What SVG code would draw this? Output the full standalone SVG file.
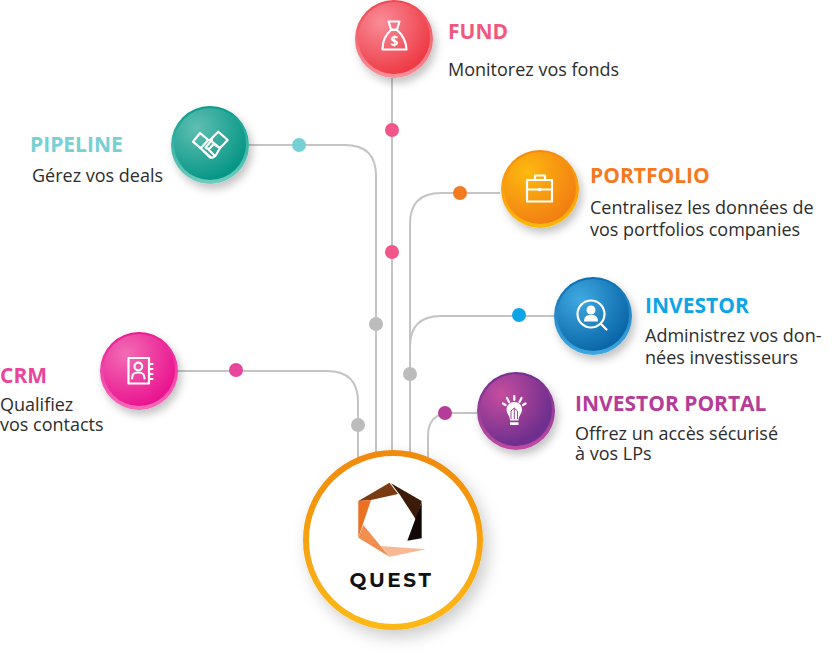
<svg xmlns="http://www.w3.org/2000/svg" width="840" height="662" viewBox="0 0 840 662">
<style>
text{font-family:"Open Sans","Noto Sans","Liberation Sans",sans-serif}
.t{font-size:21px;font-weight:700}
.d{font-size:18px;fill:#2d2d2d}
.c{fill:none;stroke:#c4c4c4;stroke-width:2}
.i{fill:none;stroke:#fff;stroke-width:2.200;stroke-linejoin:round;stroke-linecap:round}
.f{fill:#fff}
</style>
<defs>
<filter id="sh" x="-30%" y="-30%" width="170%" height="170%"><feDropShadow dx="3" dy="5" stdDeviation="4" flood-color="#000" flood-opacity=".24"/></filter>
<filter id="shq" x="-30%" y="-30%" width="170%" height="170%"><feDropShadow dx="5" dy="7" stdDeviation="8" flood-color="#000" flood-opacity=".2"/></filter>
<linearGradient id="rq" x1="0" y1="0" x2="0" y2="1"><stop offset="0" stop-color="#f08a10"/><stop offset="1" stop-color="#fdb913"/></linearGradient>
<linearGradient id="r1" x1="0" y1="0" x2="0" y2="1"><stop offset="0" stop-color="#ee4650"/><stop offset="1" stop-color="#f8909a"/></linearGradient>
<radialGradient id="g1" cx=".32" cy=".28" r=".75"><stop offset="0" stop-color="#f88c98"/><stop offset="1" stop-color="#ee3b45"/></radialGradient>
<linearGradient id="r2" x1="0" y1="0" x2="0" y2="1"><stop offset="0" stop-color="#089a8c"/><stop offset="1" stop-color="#70cdc0"/></linearGradient>
<radialGradient id="g2" cx=".32" cy=".28" r=".75"><stop offset="0" stop-color="#5fbfb2"/><stop offset="1" stop-color="#069686"/></radialGradient>
<linearGradient id="r3" x1="0" y1="0" x2="0" y2="1"><stop offset="0" stop-color="#f58a10"/><stop offset="1" stop-color="#fdb80f"/></linearGradient>
<radialGradient id="g3" cx=".32" cy=".28" r=".75"><stop offset="0" stop-color="#fdb90f"/><stop offset="1" stop-color="#f27f12"/></radialGradient>
<linearGradient id="r4" x1="0" y1="0" x2="0" y2="1"><stop offset="0" stop-color="#0b6fb0"/><stop offset="1" stop-color="#40a8e0"/></linearGradient>
<radialGradient id="g4" cx=".32" cy=".28" r=".75"><stop offset="0" stop-color="#3fa9e0"/><stop offset="1" stop-color="#0a66a8"/></radialGradient>
<linearGradient id="r5" x1="0" y1="0" x2="0" y2="1"><stop offset="0" stop-color="#6f2f8e"/><stop offset="1" stop-color="#c04ca4"/></linearGradient>
<radialGradient id="g5" cx=".3" cy=".28" r=".72"><stop offset="0" stop-color="#c64d9f"/><stop offset="1" stop-color="#6f2f8e"/></radialGradient>
<linearGradient id="r6" x1="0" y1="0" x2="0" y2="1"><stop offset="0" stop-color="#ea1a94"/><stop offset="1" stop-color="#f66cb8"/></linearGradient>
<radialGradient id="g6" cx=".32" cy=".28" r=".75"><stop offset="0" stop-color="#f26cb4"/><stop offset="1" stop-color="#ea1490"/></radialGradient>
</defs>

<g id="connectors">
<path class="c" d="M392 78V452"/>
<path class="c" d="M249 145H345Q376 145 376 176V455"/>
<path class="c" d="M500 193H441Q410 193 410 224V455"/>
<path class="c" d="M554 316H441Q410 316 410 347V400"/>
<path class="c" d="M477 413H451Q428 413 428 436V460"/>
<path class="c" d="M178 371H327Q358 371 358 402V462"/>
<circle cx="392" cy="130" r="7" fill="#f0568a"/>
<circle cx="392" cy="252" r="7" fill="#f0568a"/>
<circle cx="299" cy="145" r="7" fill="#76d0d4"/>
<circle cx="376" cy="324" r="7" fill="#bcbcbc"/>
<circle cx="460" cy="193" r="7" fill="#f37a1f"/>
<circle cx="519" cy="315" r="7" fill="#0ea5e6"/>
<circle cx="410" cy="374" r="7" fill="#bcbcbc"/>
<circle cx="445" cy="413" r="7" fill="#b53c98"/>
<circle cx="236" cy="370" r="7" fill="#e8459c"/>
<circle cx="358" cy="425" r="7" fill="#bcbcbc"/>
</g>

<g id="quest">
<circle cx="393" cy="540" r="87" fill="#fff" stroke="url(#rq)" stroke-width="6" filter="url(#shq)"/>
<path fill="#7a3a12" d="M358.300 501L389.500 482.700L398 494L371 500Z"/>
<path fill="#3c1c08" d="M391 483.300L421.700 501L416 520L413 515L400 495Z"/>
<path fill="#120805" d="M421.700 502V538.300L407.300 540.700Z"/>
<path fill="#ec7020" d="M358.300 501L371 500L358.300 537.700Z"/>
<path fill="#f28e50" d="M358.300 537.700L363.300 525L389.500 556.700Z"/>
<path fill="#f8b894" d="M381 546L425.700 549.300L389.500 556.700Z"/>
<text x="391.500" y="587" text-anchor="middle" style="font-family:'Montserrat','Lato','Open Sans',sans-serif;font-size:20px;font-weight:700;letter-spacing:2.600px" fill="#111">QUEST</text>
</g>

<g id="fund">
<circle cx="394" cy="39" r="39" fill="url(#r1)" filter="url(#sh)"/>
<circle cx="394" cy="38" r="36" fill="url(#g1)"/>
<path class="i" d="M388.500 21.500H399.500L397 29.500H391ZM391 30C385 35 382.500 43 382.500 49.500H406.500C406.500 43 403 35 397 30Z"/>
<text x="394.500" y="46" text-anchor="middle" font-size="14" font-weight="700" fill="#fff">$</text>
<text class="t" x="448" y="39" fill="#f0587e">FUND</text>
<text class="d" x="448" y="76">Monitorez vos fonds</text>
</g>

<g id="pipeline">
<circle cx="210" cy="145" r="39" fill="url(#r2)" filter="url(#sh)"/>
<circle cx="210" cy="144" r="36" fill="url(#g2)"/>
<path class="i" d="M193 141.700L200 133L208.300 140L200.700 148.300ZM210 140L218.300 131.700L227.700 140L220 148ZM200.700 148.300L210 157.500C212 158 215 157 216 155L220 148M208.300 140H212L205.500 147.500C207 149 209 149 210.500 147.500L213.500 144L220 148M204.500 151.500L210.500 157M208 149L214 155"/>
<text class="t" x="30" y="152" fill="#76d0d4">PIPELINE</text>
<text class="d" x="32" y="182">Gérez vos deals</text>
</g>

<g id="portfolio">
<circle cx="540" cy="189" r="39" fill="url(#r3)" filter="url(#sh)"/>
<circle cx="540" cy="188" r="36" fill="url(#g3)"/>
<path class="i" d="M527 180H552V201.500H527ZM527 189.500H552M535 180V175.500H545V180"/>
<circle class="f" cx="539.500" cy="189.500" r="1.800"/>
<text class="t" x="590" y="183" fill="#f37a1f">PORTFOLIO</text>
<text class="d" x="590" y="214">Centralisez les données de</text>
<text class="d" x="590" y="236">vos portfolios companies</text>
</g>

<g id="investor">
<circle cx="593" cy="316" r="39" fill="url(#r4)" filter="url(#sh)"/>
<circle cx="593" cy="315" r="36" fill="url(#g4)"/>
<circle class="i" cx="591" cy="314" r="13.500" stroke-width="2.500"/>
<path class="i" d="M601 324L606.500 329.500" stroke-width="3"/>
<circle class="f" cx="591" cy="310" r="4.500"/>
<path class="f" d="M584 321.500C584 316 587 315 591 315S598 316 598 321.500Z"/>
<text class="t" x="645" y="313" fill="#0ea5e6">INVESTOR</text>
<text class="d" x="645" y="342">Administrez vos don-</text>
<text class="d" x="645" y="364">nées investisseurs</text>
</g>

<g id="investor-portal">
<circle cx="516" cy="411" r="39" fill="url(#r5)" filter="url(#sh)"/>
<circle cx="516" cy="410" r="36" fill="url(#g5)"/>
<path class="f" d="M514.300 402C519 402 522 405.500 522 409.500C522 413.500 518.500 415.500 518.500 420.500H510C510 415.500 506.500 413.500 506.500 409.500C506.500 405.500 509.500 402 514.300 402ZM510 422.300H518.500V425H510Z"/>
<path d="M511 419V411M517.500 419V411M514.300 419V408M511 411L514.300 408L517.500 411" fill="none" stroke="#a0489a" stroke-width="1"/>
<path class="i" stroke-width="1.800" d="M514.300 396V400M507 398L509 402M521.500 398L519.500 402M503 403.500L505.500 405M525.500 403.500L523 405"/>
<text class="t" x="575" y="411" fill="#b53c98">INVESTOR PORTAL</text>
<text class="d" x="575" y="440">Offrez un accès sécurisé</text>
<text class="d" x="575" y="460">à vos LPs</text>
</g>

<g id="crm">
<circle cx="139" cy="371" r="39" fill="url(#r6)" filter="url(#sh)"/>
<circle cx="139" cy="370" r="36" fill="url(#g6)"/>
<path class="i" d="M128.500 358H149V383.500H128.500ZM149 364H152.500M149 369H152.500M149 374H152.500M149 379H152.500"/>
<circle class="i" cx="138.300" cy="366.500" r="3.800"/>
<path class="i" d="M132 378.500C132 373 135 372.500 138.300 372.500S144.500 373 144.500 378.500"/>
<text class="t" x="0" y="383" fill="#e8459c">CRM</text>
<text class="d" x="0" y="411">Qualifiez</text>
<text class="d" x="0" y="431">vos contacts</text>
</g>
</svg>
